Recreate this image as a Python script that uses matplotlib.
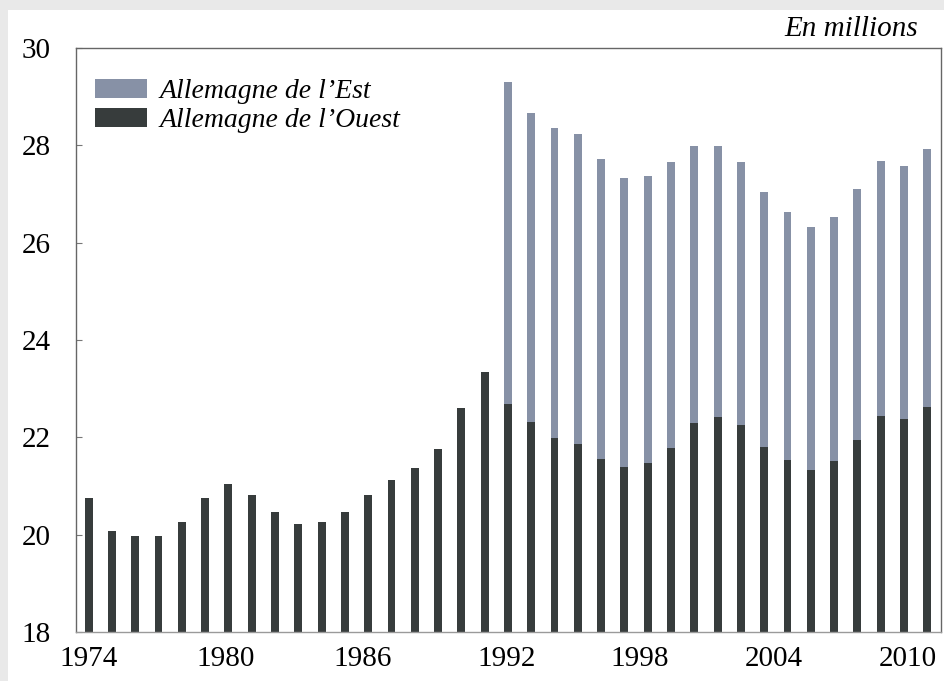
import matplotlib
matplotlib.use("Agg")
import matplotlib.pyplot as plt
from matplotlib.patches import Rectangle

# Chomeurs / population en millions, Allemagne
years = list(range(1974, 2011))
west = [20.75, 20.08, 19.97, 19.98, 20.25, 20.75, 21.04, 20.82, 20.47, 20.21,
        20.25, 20.47, 20.82, 21.13, 21.37, 21.77, 22.60, 23.34,
        22.69, 22.31, 21.99, 21.87, 21.56, 21.40, 21.48, 21.79, 22.30, 22.41,
        22.26, 21.81, 21.53, 21.33, 21.51, 21.95, 22.43, 22.37, 22.62]
total = [None] * 18 + [29.31, 28.67, 28.35, 28.23, 27.72, 27.33, 27.36, 27.66,
                       27.99, 27.98, 27.66, 27.04, 26.63, 26.32, 26.52, 27.11,
                       27.67, 27.57, 27.93]
east = [0 if t is None else t - w for t, w in zip(total, west)]

tick_years = [1974, 1980, 1986, 1992, 1998, 2004, 2010]
tick_labels = [str(y) for y in tick_years]
# labels in the scan drift slightly left of their bars
tick_pos = [1974, 1979.9, 1985.75, 1991.95, 1997.65, 2003.4, 2009.15]

plt.rcParams['font.family'] = ['Liberation Serif', 'DejaVu Serif']

fig = plt.figure(figsize=(9.45, 6.81), dpi=100, facecolor='#e9e9e9')
fig.patches.append(Rectangle((0.008, 0), 0.992, 0.985, transform=fig.transFigure,
                             facecolor='white', edgecolor='none', zorder=-1))
ax = fig.add_axes([0.080, 0.072, 0.916, 0.8575])
ax.set_facecolor('white')

WEST_C = '#373c3c'
EAST_C = '#8791a6'

ax.bar(years, west, width=0.34, color=WEST_C, label="Allemagne de l\u2019Ouest", zorder=2)
ax.bar(years, east, width=0.34, bottom=west, color=EAST_C, label="Allemagne de l\u2019Est", zorder=2)

ax.set_ylim(18, 30)
ax.set_xlim(1973.44, 2010.6)
ax.set_yticks([18, 20, 22, 24, 26, 28, 30])
ax.set_xticks(tick_pos)
ax.set_xticklabels(tick_labels)
ax.tick_params(axis='y', direction='in', length=4, width=0.8, color='#777777',
               labelsize=21, pad=18)
ax.tick_params(axis='x', length=0, labelsize=21, pad=10)

for s in ['left', 'top', 'right']:
    ax.spines[s].set_color('#666666')
    ax.spines[s].set_linewidth(1.0)
ax.spines['bottom'].set_color('#9a9a9a')
ax.spines['bottom'].set_linestyle((0, (2, 1)))
ax.spines['bottom'].set_linewidth(1.0)

handles, labels = ax.get_legend_handles_labels()
leg = ax.legend(handles[::-1], labels[::-1], loc='upper left',
                bbox_to_anchor=(0.022, 0.947), frameon=False,
                borderaxespad=0, borderpad=0,
                prop={'style': 'italic', 'size': 20}, handlelength=1.9,
                handleheight=0.65, handletextpad=0.45, labelspacing=0.15)

fig.text(0.972, 0.958, 'En millions', ha='right', va='center',
         fontsize=21, style='italic')

fig.savefig('out.png', dpi=100, facecolor=fig.get_facecolor())
